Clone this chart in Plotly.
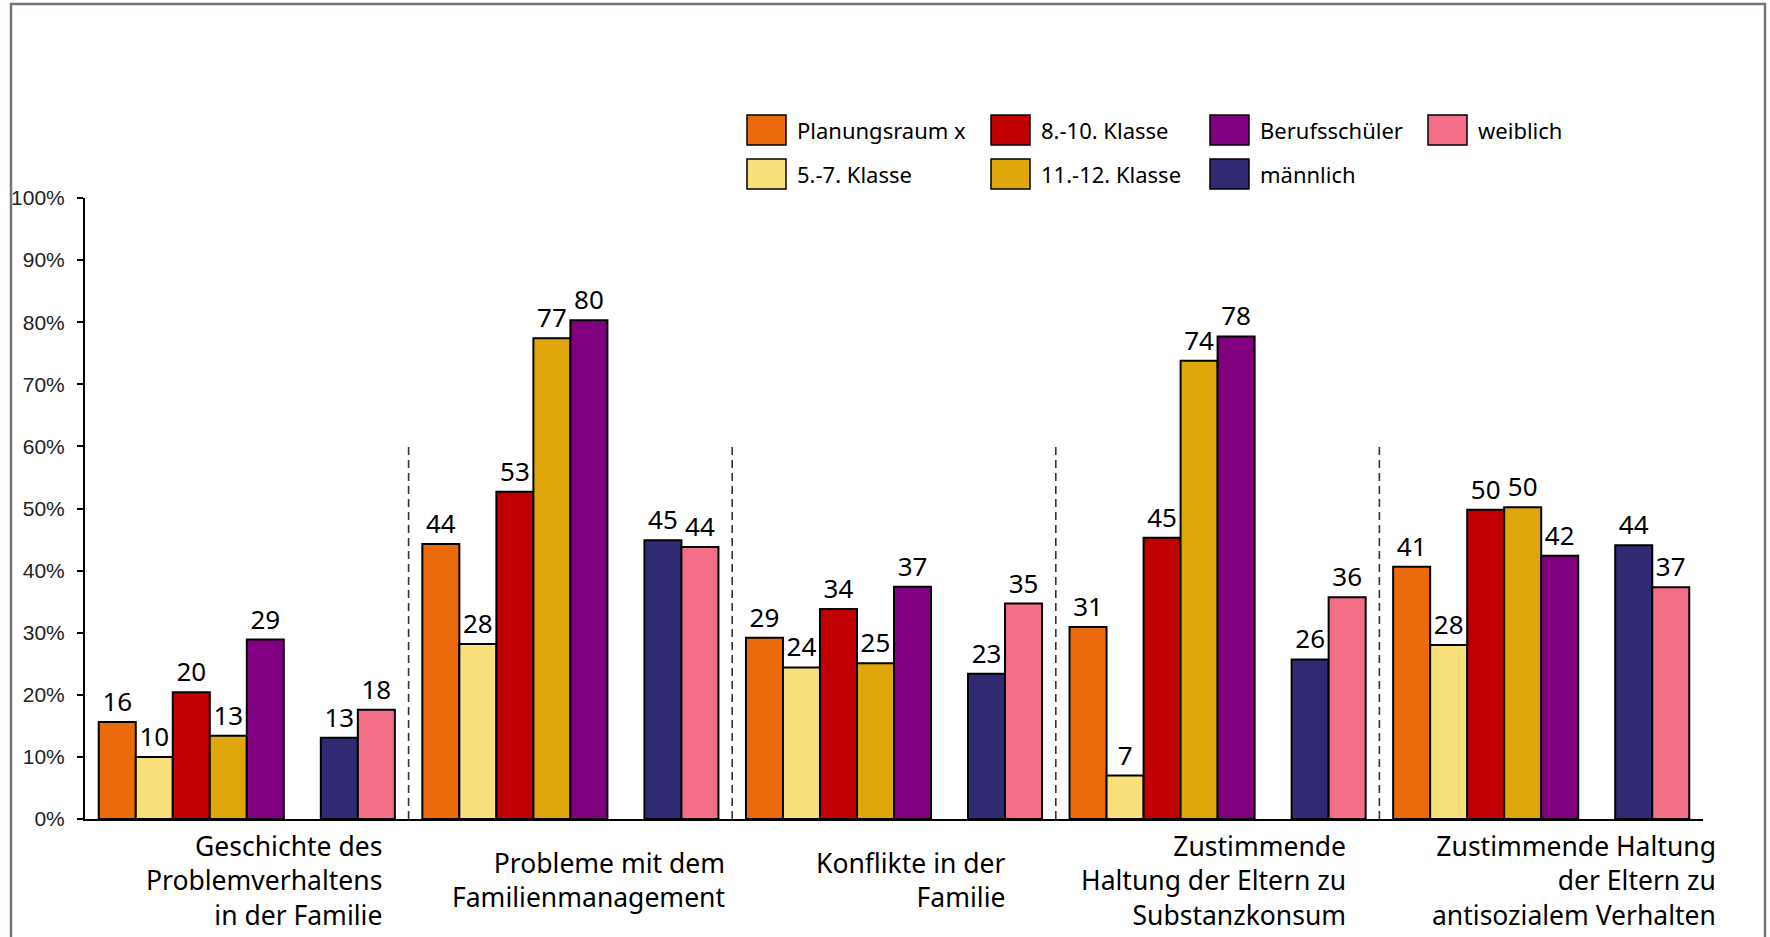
import plotly.graph_objects as go

# ---------------- data ----------------
categories = [
    "Geschichte des<br>Problemverhaltens<br>in der Familie",
    "Probleme mit dem<br>Familienmanagement",
    "Konflikte in der<br>Familie",
    "Zustimmende<br>Haltung der Eltern zu<br>Substanzkonsum",
    "Zustimmende Haltung<br>der Eltern zu<br>antisozialem Verhalten",
]
series_names = ["Planungsraum x", "5.-7. Klasse", "8.-10. Klasse", "11.-12. Klasse",
                "Berufsschüler", "männlich", "weiblich"]
planungsraum = [15.6, 44.3, 29.2, 30.9, 40.6]
klasse_5_7 = [10.0, 28.2, 24.4, 7.0, 28.0]
klasse_8_10 = [20.4, 52.7, 33.8, 45.3, 49.8]
klasse_11_12 = [13.4, 77.4, 25.1, 73.8, 50.2]
berufsschueler = [28.9, 80.3, 37.4, 77.7, 42.4]
maennlich = [13.1, 44.9, 23.4, 25.7, 44.1]
weiblich = [17.6, 43.8, 34.7, 35.7, 37.3]
y_ticks = [0, 10, 20, 30, 40, 50, 60, 70, 80, 90, 100]
y_tick_labels = [f"{v}%" for v in y_ticks]

# ---------------- style ----------------
colors = ["#EA6B0C", "#F8E17A", "#C00000", "#E0A70C", "#800080", "#302A73", "#F36F88"]
W, H = 1770, 937
ML, MT = 85, 198
MR = W - 1703
MB = H - 819
PW, PH = W - ML - MR, H - MT - MB

def px_x(p):                 # page pixel -> paper fraction
    return (p - ML) / PW

def px_y(p):
    return (H - MB - p) / PH

fig = go.Figure()
values = [planungsraum, klasse_5_7, klasse_8_10, klasse_11_12, berufsschueler, maennlich, weiblich]
for i, (name, vals, col) in enumerate(zip(series_names, values, colors)):
    if i == 5:
        # empty slot between school types and gender
        fig.add_trace(go.Bar(x=categories, y=[0] * len(categories),
                             marker=dict(color="rgba(0,0,0,0)", line=dict(width=0)),
                             showlegend=False, hoverinfo="skip"))
    fig.add_trace(go.Bar(
        x=categories, y=vals, name=name,
        marker=dict(color=col, line=dict(color="black", width=2)),
        texttemplate="%{y:.0f}", textposition="outside",
        textfont=dict(family="Noto Sans", size=26, color="black"),
        cliponaxis=False, constraintext="none", showlegend=False,
    ))

fig.update_layout(
    width=W, height=H, autosize=False,
    margin=dict(l=ML, r=MR, t=MT, b=MB, pad=0),
    paper_bgcolor="white", plot_bgcolor="white",
    barmode="group", bargap=0.085, bargroupgap=0,
    showlegend=False,
)
fig.update_xaxes(range=[-0.5, len(categories) - 0.5], autorange=False,
                 showline=True, linecolor="black", linewidth=2, showticklabels=False,
                 ticks="", showgrid=False, zeroline=False, automargin=False)
fig.update_yaxes(range=[0, 100], tickvals=y_ticks, ticktext=y_tick_labels,
                 showline=True, linecolor="black", linewidth=2, ticks="outside",
                 ticklen=6, tickwidth=2, tickcolor="black", ticklabelstandoff=8,
                 tickfont=dict(family="Liberation Sans", size=21, color="#222222"),
                 showgrid=False, zeroline=False, automargin=False)

shapes = []
# outer frame
shapes.append(dict(type="rect", xref="paper", yref="paper",
                   x0=px_x(11), x1=px_x(1765), y0=px_y(950), y1=px_y(4),
                   line=dict(color="#6E7681", width=2.5), fillcolor="rgba(0,0,0,0)", layer="below"))
# dashed separators between categories
separator_top = 60.6
for i in range(len(categories) - 1):
    shapes.append(dict(type="line", xref="x", yref="y", x0=i + 0.5, x1=i + 0.5,
                       y0=0, y1=separator_top, line=dict(color="#333333", width=1.6, dash="8px,5px")))

# custom legend (column-major, 2 rows)
legend_col_px = [747, 991, 1210, 1428]
legend_row_px = [130, 174]
annotations = []
for i, (name, col) in enumerate(zip(series_names, colors)):
    c, r = i // 2, i % 2
    x0 = legend_col_px[c]
    yc = legend_row_px[r]
    shapes.append(dict(type="rect", xref="paper", yref="paper",
                       x0=px_x(x0), x1=px_x(x0 + 39), y0=px_y(yc + 15), y1=px_y(yc - 15),
                       fillcolor=col, line=dict(color="black", width=1.5)))
    annotations.append(dict(xref="paper", yref="paper", x=px_x(x0 + 48), y=px_y(yc),
                            xanchor="left", yanchor="middle", showarrow=False, text=name,
                            font=dict(family="Noto Sans", size=22, color="black")))

# category labels (right aligned, vertically centred below axis)
label_xshift_px = [137, 157, 114, 130, 177]
for cat, xs in zip(categories, label_xshift_px):
    annotations.append(dict(xref="x", yref="paper", x=cat, y=px_y(880), xshift=xs,
                            xanchor="right", yanchor="middle", align="right", showarrow=False,
                            text=cat, font=dict(family="Noto Sans", size=26.5, color="black")))

fig.update_layout(shapes=shapes, annotations=annotations)
# remove the default 8px body margin so the figure fills the window exactly
fig.write_html("out.html", config={"displayModeBar": False},
               post_script="document.body.style.margin='0';document.body.style.overflow='hidden';")
